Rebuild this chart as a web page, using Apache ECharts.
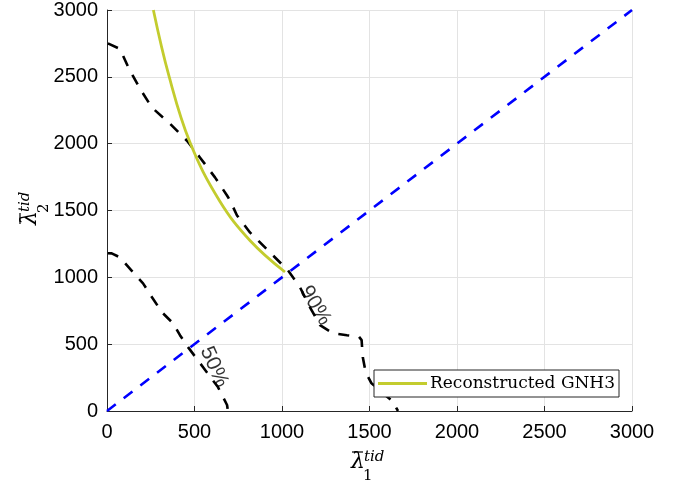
<!DOCTYPE html>
<html>
<head>
<meta charset="utf-8">
<script src="https://cdn.jsdelivr.net/npm/echarts@6/dist/echarts.min.js"></script>
<style>
  html, body { margin: 0; padding: 0; background: #fff; }
  #chart { width: 689px; height: 487px; }
</style>
</head>
<body>
<div id="chart"></div>
<script>
// axis ticks
const ticks = [0, 500, 1000, 1500, 2000, 2500, 3000]

// reconstructed GNH3 curve
const gnhX = [265, 354, 474, 642, 817, 1017]
const gnhY = [3000, 2507, 2010, 1575, 1276, 1040]

// 90% contour
const c90X = [5, 74, 126, 189, 257, 360, 457, 531, 617, 686, 703, 743, 817, 931, 1034, 1103, 1160, 1217, 1291, 1371, 1440, 1455, 1458, 1462, 1478, 1510, 1570, 1630, 1663]
const c90Y = [2750, 2709, 2560, 2410, 2270, 2149, 2022, 1897, 1748, 1612, 1575, 1463, 1336, 1187, 1052, 925, 776, 642, 582, 567, 555, 530, 470, 400, 290, 210, 140, 75, 0]

// 50% contour
const c50X = [5, 27, 74, 149, 206, 257, 314, 377, 417, 463, 549, 634, 686, 691]
const c50Y = [1180, 1179, 1149, 1037, 955, 851, 739, 657, 567, 478, 328, 179, 45, 0]

// diagonal
const diagX = [0, 3000]
const diagY = [0, 3000]

// contour labels
const labelText = ["50%", "90%"]
const labelX = [612, 1190]
const labelY = [330, 790]
const labelRot = [-66, -59]

const zip = (xs, ys) => xs.map((x, i) => [x, ys[i]])

const chart = echarts.init(document.getElementById("chart"))

const axisColor = "#262626"
const tickFont = {color: "#000", fontSize: 20, fontFamily: "Liberation Sans"}

function valueAxis(isX) {
  return {
    type: "value",
    min: ticks[0],
    max: ticks[ticks.length - 1],
    interval: ticks[1] - ticks[0],
    axisLine: {show: true, onZero: false, lineStyle: {color: axisColor, width: 1}},
    axisTick: {show: true, inside: true, length: 5, lineStyle: {color: axisColor}},
    axisLabel: Object.assign({margin: isX ? 11 : 9, formatter: v => String(v)}, tickFont),
    splitLine: {show: true, lineStyle: {color: "#e3e3e3", width: 1}},
  }
}

const dash = [11, 10]

chart.setOption({
  animation: false,
  grid: {left: 107, right: 57, top: 9, bottom: 76},
  xAxis: valueAxis(true),
  yAxis: valueAxis(false),
  legend: {
    data: [{name: "Reconstructed GNH3", icon: "rect"}],
    right: 70,
    bottom: 90,
    orient: "vertical",
    backgroundColor: "#fff",
    borderColor: axisColor,
    borderWidth: 1,
    borderRadius: 0,
    padding: [5, 4, 5, 4],
    itemWidth: 49,
    itemHeight: 3,
    itemGap: 0,
    textStyle: {fontFamily: "DejaVu Serif", fontSize: 17, color: "#000", padding: [0, 0, 0, -2]},
  },
  series: [
    {
      name: "diag",
      type: "line",
      data: zip(diagX, diagY),
      symbol: "none",
      lineStyle: {color: "#0000ff", width: 2.6, type: dash},
      z: 3,
    },
    {
      name: "c90",
      type: "line",
      data: zip(c90X, c90Y),
      symbol: "none",
      lineStyle: {color: "#000", width: 2.6, type: dash},
      z: 2,
    },
    {
      name: "c50",
      type: "line",
      data: zip(c50X, c50Y),
      symbol: "none",
      lineStyle: {color: "#000", width: 2.6, type: dash},
      z: 2,
    },
    {
      name: "Reconstructed GNH3",
      type: "line",
      data: zip(gnhX, gnhY),
      smooth: 0.4,
      symbol: "none",
      itemStyle: {color: "#c3cc2e"},
      lineStyle: {color: "#c3cc2e", width: 2.8},
      z: 4,
    },
    {
      name: "labels",
      type: "scatter",
      symbolSize: 0,
      data: labelX.map((x, i) => ({
        value: [x, labelY[i]],
        label: {
          show: true,
          formatter: labelText[i],
          position: "inside",
          rotate: labelRot[i],
          color: "#000",
          fontSize: 21,
          fontFamily: "Liberation Sans",
        },
      })),
      z: 5,
    },
  ],
  graphic: [
    // x axis name
    {type: "text", x: 358, y: 462, style: {text: "λ", font: 'italic 22px "DejaVu Serif"', fill: "#000", textAlign: "center", textVerticalAlign: "middle"}},
    {type: "line", shape: {x1: 352, y1: 452, x2: 363, y2: 452}, style: {stroke: "#000", lineWidth: 1.2}},
    {type: "text", x: 364, y: 457, style: {text: "tid", font: 'italic 15px "DejaVu Serif"', fill: "#000", textAlign: "left", textVerticalAlign: "middle"}},
    {type: "text", x: 363, y: 476, style: {text: "1", font: '15px "DejaVu Serif"', fill: "#000", textAlign: "left", textVerticalAlign: "middle"}},
    // y axis name
    {
      type: "group",
      x: 30,
      y: 218,
      rotation: Math.PI / 2,
      children: [
        {type: "text", x: 0, y: 0, style: {text: "λ", font: 'italic 22px "DejaVu Serif"', fill: "#000", textAlign: "center", textVerticalAlign: "middle"}},
        {type: "line", shape: {x1: -6, y1: -10, x2: 5, y2: -10}, style: {stroke: "#000", lineWidth: 1.2}},
        {type: "text", x: 6, y: -5, style: {text: "tid", font: 'italic 15px "DejaVu Serif"', fill: "#000", textAlign: "left", textVerticalAlign: "middle"}},
        {type: "text", x: 5, y: 14, style: {text: "2", font: '15px "DejaVu Serif"', fill: "#000", textAlign: "left", textVerticalAlign: "middle"}},
      ],
    },
  ],
})
</script>
</body>
</html>
